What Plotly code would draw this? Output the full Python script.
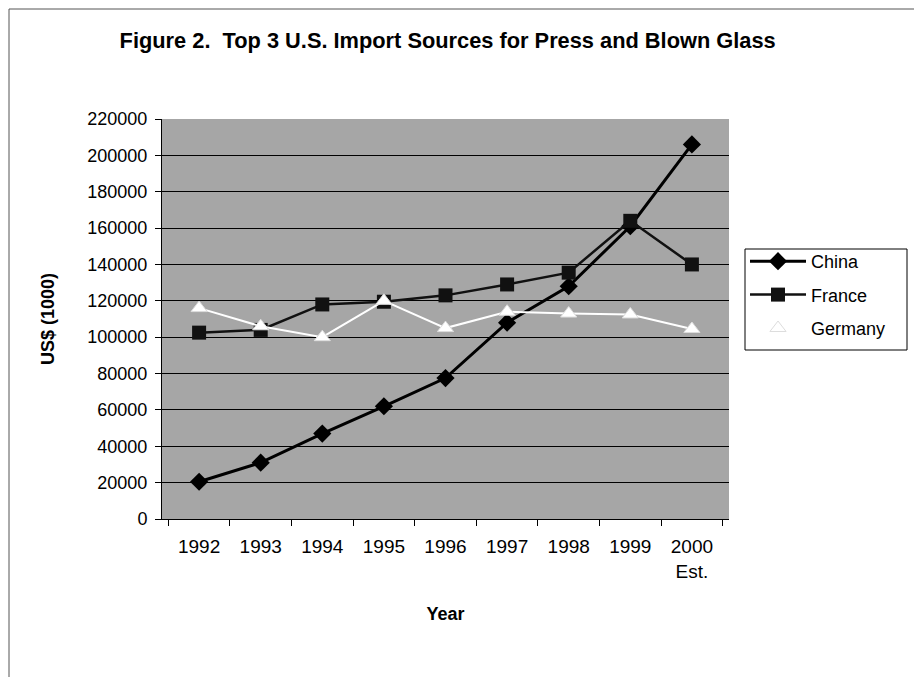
import plotly.graph_objects as go

years = ["1992", "1993", "1994", "1995", "1996", "1997", "1998", "1999", "2000<br>Est."]
china = [20500, 31000, 47000, 62000, 77500, 108000, 128000, 161000, 206000]
france = [102500, 104000, 118000, 119500, 123000, 129000, 135500, 164000, 140000]
germany = [116000, 106000, 100000, 120000, 105000, 114000, 113000, 112500, 104500]
y_ticks = list(range(0, 220001, 20000))

FONT = "Liberation Sans, Arial, sans-serif"

fig = go.Figure()
fig.add_trace(go.Scatter(
    x=years, y=china, name="China", mode="lines+markers", legendgroup="a",
    line=dict(color="black", width=3),
    marker=dict(symbol="diamond", size=14, color="black")))
fig.add_trace(go.Scatter(
    x=years, y=france, name="France", mode="lines+markers", legendgroup="b",
    line=dict(color="#111111", width=2.5),
    marker=dict(symbol="square", size=14, color="#111111")))
fig.add_trace(go.Scatter(
    x=years, y=germany, name="Germany", mode="lines+markers", legendgroup="c",
    line=dict(color="white", width=2),
    marker=dict(symbol="triangle-up", size=14, color="white",
                line=dict(color="#dddddd", width=1))))

W, H = 914, 669
L, T = 154, 111
PW, PH = 567, 400

def px(xp):  # page x -> paper x
    return (xp - 8 - L) / PW

def py(yp):  # page y -> paper y
    return (T + PH - (yp - 8)) / PH

fig.update_layout(
    width=W, height=H,
    margin=dict(l=L, r=W - L - PW, t=T, b=H - T - PH),
    paper_bgcolor="white",
    plot_bgcolor="#a6a6a6",
    font=dict(family=FONT, color="black", size=18),
    title=dict(text="<b>Figure 2.  Top 3 U.S. Import Sources for Press and Blown Glass</b>",
               x=0.481, xanchor="center", y=1 - 32 / H, yanchor="middle",
               font=dict(size=21.8, family=FONT)),
    showlegend=True,
    legend=dict(x=px(745), y=py(243), xanchor="left", yanchor="top",
                bgcolor="rgba(0,0,0,0)", borderwidth=0,
                font=dict(size=18, family=FONT), itemwidth=56,
                tracegroupgap=7),
    xaxis=dict(
        type="category", tickson="boundaries", ticks="outside", ticklen=6,
        tickcolor="black", showline=True, linecolor="black", linewidth=1,
        showgrid=False, tickfont=dict(size=19), ticklabelstandoff=10,
        title=dict(text="<b>Year</b>", font=dict(size=18), standoff=26)),
    yaxis=dict(
        range=[0, 220000], tickvals=y_ticks, ticktext=[str(v) for v in y_ticks],
        ticks="outside", ticklen=6, tickcolor="black",
        showline=True, linecolor="black", linewidth=1,
        showgrid=True, gridcolor="black", gridwidth=1, zeroline=False,
        tickfont=dict(size=18), ticklabelstandoff=4,
        title=dict(text="<b>US$ (1000)</b>", font=dict(size=18), standoff=28)),
)

# legend box
fig.add_shape(type="rect", xref="paper", yref="paper",
              x0=px(745), x1=px(907), y0=py(249), y1=py(350),
              line=dict(color="black", width=1), fillcolor="white", layer="below")

# page frame (left and top edges)
x0 = (1 - L) / PW
ytop = (T + PH - 1) / PH
ybot = (T + PH - H) / PH
fig.add_shape(type="line", xref="paper", yref="paper", x0=x0, x1=(W - L) / PW, y0=ytop, y1=ytop,
              line=dict(color="#555555", width=1))
fig.add_shape(type="line", xref="paper", yref="paper", x0=x0, x1=x0, y0=ytop, y1=ybot,
              line=dict(color="#555555", width=1))

fig.write_html("out.html")
